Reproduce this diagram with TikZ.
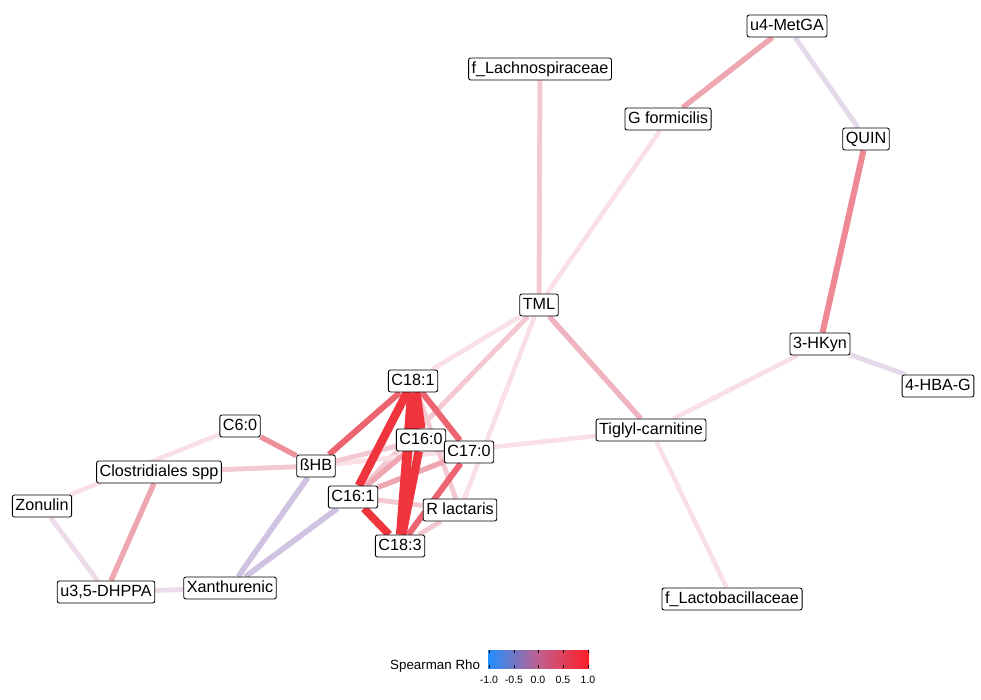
\documentclass[tikz,border=0pt]{standalone}
\usepackage{fontspec}
\setmainfont{Liberation Sans}
\usepackage{xcolor}
\usepackage{tikz}
\usetikzlibrary{backgrounds}

\definecolor{rhostrong}{RGB}{240,52,62}
\definecolor{rhohigh}{RGB}{236,100,112}
\definecolor{rhomid}{RGB}{238,166,177}
\definecolor{rholow}{RGB}{244,200,209}
\definecolor{rhofaint}{RGB}{249,224,231}
\definecolor{rhoneg}{RGB}{208,195,226}
\definecolor{rhonegfaint}{RGB}{228,218,234}
\definecolor{barblue}{RGB}{30,144,255}
\definecolor{barmid}{RGB}{192,96,142}
\definecolor{barred}{RGB}{255,30,40}

\begin{document}
\begin{tikzpicture}[
    x=0.025cm, y=-0.025cm,
    every node/.style={font=\fontsize{11.5}{13}\selectfont},
    var/.style={draw, rounded corners=1.5pt, fill=white, line width=0.6pt, inner xsep=2.2pt, inner ysep=2.4pt, text height=8.5pt, text depth=2.3pt},
    strong/.style={draw=rhostrong, line width=6pt},
    high/.style={draw=rhohigh, line width=4.3pt},
    mid/.style={draw=rhomid, line width=3.8pt},
    low/.style={draw=rholow, line width=3.5pt},
    faint/.style={draw=rhofaint, line width=3.3pt},
    neg/.style={draw=rhoneg, line width=4pt},
    negfaint/.style={draw=rhonegfaint, line width=3.5pt},
    small/.style={font=\fontsize{9.5}{11}\selectfont},
]
\useasboundingbox (0,0) rectangle (981,699);

% === variables ===
\node[var] (metga) at (787,26) {u4-MetGA};
\node[var] (lachno) at (540,69) {f\_Lachnospiraceae};
\node[var] (gform) at (668,119) {G formicilis};
\node[var] (quin) at (866,139) {QUIN};
\node[var] (tml) at (539,305) {TML};
\node[var] (hkyn) at (820,344) {3-HKyn};
\node[var] (hbag) at (938,386) {4-HBA-G};
\node[var] (c181) at (413,381) {C18:1};
\node[var] (c60) at (240,426) {C6:0};
\node[var] (tiglyl) at (651,430) {Tiglyl-carnitine};
\node[var] (c160) at (421,440) {C16:0};
\node[var] (c170) at (469,452) {C17:0};
\node[var] (clost) at (159,472) {Clostridiales spp};
\node[var] (bhb) at (316,466) {ßHB};
\node[var] (c161) at (353,497) {C16:1};
\node[var] (zonulin) at (42,506) {Zonulin};
\node[var] (rlact) at (460,510) {R lactaris};
\node[var] (c183) at (400,546) {C18:3};
\node[var] (dhppa) at (106,592) {u3,5-DHPPA};
\node[var] (xanth) at (230,588) {Xanthurenic};
\node[var] (lacto) at (732,599) {f\_Lactobacillaceae};

% === correlations ===
\begin{pgfonlayer}{background}
\draw[mid] (metga) -- (gform);
\draw[faint] (gform) -- (tml);
\draw[negfaint] (metga) -- (quin);
\draw[high, draw=rhomid!55!rhohigh] (quin) -- (hkyn);
\draw[negfaint] (hkyn) -- (hbag);
\draw[faint] (hkyn) -- (tiglyl);
\draw[low] (lachno) -- (tml);
\draw[mid, draw=rhomid!60!rholow] (tml) -- (tiglyl);
\draw[faint] (tml) -- (c181);
\draw[low] (tml) -- (c161);
\draw[faint] (tml) -- (rlact);
\draw[faint] (tiglyl) -- (lacto);
\draw[faint] (tiglyl) -- (bhb);

\draw[low] (c181) -- (rlact);
\draw[low] (c161) -- (rlact);
\draw[low] (c183) -- (rlact);
\draw[low] (c160) -- (bhb);
\draw[mid] (c160) -- (c161);
\draw[mid] (c170) -- (c161);
\draw[high] (c181) -- (bhb);
\draw[high] (c181) -- (c170);
\draw[high] (c170) -- (c183);
\draw[strong, line width=5.5pt] (c161) -- (c183);
\draw[strong] (c181) -- (c161);
\draw[strong] (c160) -- (c183);
\draw[strong, line width=7pt] (c181) -- (c183);
\draw[strong, line width=8.5pt] (c181) -- (c160);

\draw[mid, draw=rhomid!70!rhohigh] (bhb) -- (c60);
\draw[low] (bhb) -- (clost);
\draw[neg] (bhb) -- (xanth);
\draw[neg] (c161) -- (xanth);
\draw[faint] (zonulin) -- (c60);
\draw[negfaint, draw=rhonegfaint!60!rhofaint] (zonulin) -- (dhppa);
\draw[mid] (clost) -- (dhppa);
\draw[negfaint, draw=rhonegfaint!60!rhofaint] (dhppa) -- (xanth);
\end{pgfonlayer}

% === legend ===
\node[small, anchor=east] (legtitle) at (485,666) {Spearman Rho};
\shade[left color=barblue, right color=barred, middle color=barmid] (488,650) rectangle (589,668);
\foreach \x/\l in {489/-1.0, 514/-0.5, 538/0.0, 563/0.5, 588/1.0} {
    \draw[line width=0.5pt] (\x,650) -- (\x,653);
    \draw[line width=0.5pt] (\x,665) -- (\x,668);
    \node[font=\fontsize{7.5}{8}\selectfont] (tick\x) at (\x,680) {\l};
}

\end{tikzpicture}
\end{document}
